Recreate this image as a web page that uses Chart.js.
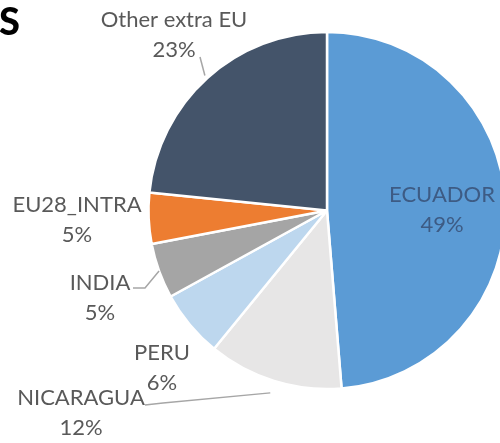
<!DOCTYPE html>
<html>
<head>
<meta charset="utf-8">
<script src="https://cdn.jsdelivr.net/npm/chart.js@4.4.1/dist/chart.umd.min.js"></script>
<style>
  html, body { margin: 0; padding: 0; background: #ffffff; overflow: hidden; width: 500px; height: 443px; }
  #wrap { position: absolute; left: 0; top: 0; width: 520px; height: 443px; }
  #title { position: absolute; left: -1px; top: -2px; font-family: Lato, "Liberation Sans", sans-serif; font-weight: 900; font-size: 38px; line-height: 44px; color: #000; }
</style>
</head>
<body>
<div id="wrap"><canvas id="c" width="520" height="443"></canvas></div>
<div id="title">S</div>
<script>
// ---- data ----
const categories = ['ECUADOR', 'NICARAGUA', 'PERU', 'INDIA', 'EU28_INTRA', 'Other extra EU'];
const shares = [48.7, 12.2, 6.1, 5.0, 4.6, 23.4];
const sliceColors = ['#5B9BD5', '#E7E6E6', '#BDD7EE', '#A5A5A5', '#ED7D31', '#44546A'];

// ---- label layout (pixels relative to pie centre, for radius 178.5) ----
const labelLayout = [
  { dx: 115,  dy: -8.5,   color: '#3d5b84', leader: null },
  { dx: -246, dy: 194.5,  color: '#595959', leader: { r: 1.07, pts: [[-164, 192.5], [-182, 194.5]] } },
  { dx: -165, dy: 149.5,  color: '#595959', leader: null },
  { dx: -227, dy: 79.5,   color: '#595959', leader: { r: 1.0, pts: [[-182, 77.5], [-194, 77.5]] } },
  { dx: -250, dy: 1.5,    color: '#595959', leader: null },
  { dx: -153, dy: -183.5, color: '#595959', leader: { r: 1.02, pts: [[-127, -153.5]] } }
];

const total = shares.reduce((a, b) => a + b, 0);
const pctLabels = shares.map(v => Math.round(v / total * 100) + '%');

const labelPlugin = {
  id: 'sliceLabels',
  afterDatasetsDraw(chart) {
    const ctx = chart.ctx;
    const meta = chart.getDatasetMeta(0);
    ctx.save();
    meta.data.forEach((arc, i) => {
      const p = arc.getProps(['x', 'y', 'startAngle', 'endAngle', 'outerRadius'], true);
      const s = p.outerRadius / 178.5;
      const lay = labelLayout[i];
      if (lay.leader) {
        const mid = (p.startAngle + p.endAngle) / 2;
        const r0 = p.outerRadius * lay.leader.r;
        ctx.beginPath();
        ctx.moveTo(p.x + r0 * Math.cos(mid), p.y + r0 * Math.sin(mid));
        lay.leader.pts.forEach(q => ctx.lineTo(p.x + q[0] * s, p.y + q[1] * s));
        ctx.strokeStyle = '#A6A6A6';
        ctx.lineWidth = 1.5;
        ctx.stroke();
      }
      ctx.fillStyle = lay.color;
      ctx.font = '22px Lato, "Liberation Sans", sans-serif';
      ctx.textAlign = 'center';
      ctx.textBaseline = 'alphabetic';
      const tx = p.x + lay.dx * s;
      const ty = p.y + lay.dy * s;
      ctx.fillText(categories[i], tx, ty);
      ctx.fillText(pctLabels[i], tx, ty + 29.5);
    });
    ctx.restore();
  }
};

new Chart(document.getElementById('c'), {
  type: 'pie',
  data: {
    labels: categories,
    datasets: [{
      data: shares,
      backgroundColor: sliceColors,
      borderColor: '#ffffff',
      borderWidth: 2.5
    }]
  },
  options: {
    responsive: false,
    animation: false,
    layout: { padding: { left: 147.25, top: 30.75, right: 13.25, bottom: 52.75 } },
    plugins: {
      legend: { display: false },
      tooltip: { enabled: false },
      title: { display: false }
    }
  },
  plugins: [labelPlugin]
});
</script>
</body>
</html>
